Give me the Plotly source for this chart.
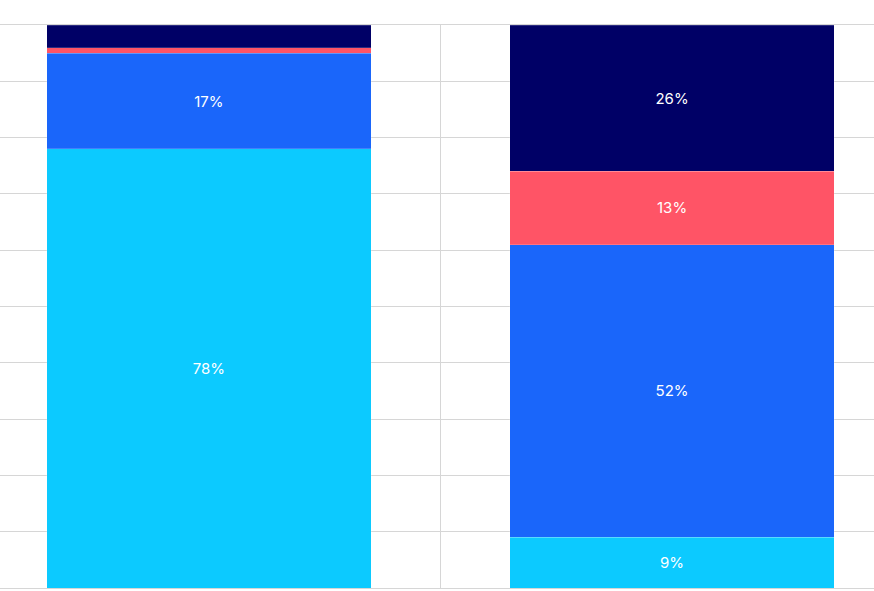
import plotly.graph_objects as go

categories = ["A", "B"]
series_names = ["S1", "S2", "S3", "S4"]
s1 = [78, 9]
s2 = [17, 52]
s3 = [1, 13]
s4 = [4, 26]
labels1 = ["78%", "9%"]
labels2 = ["17%", "52%"]
labels3 = ["", "13%"]
labels4 = ["", "26%"]
colors = ["#0CCAFF", "#1A66FA", "#FF5466", "#000066"]

fig = go.Figure()
for name, vals, labs, col in zip(series_names, [s1, s2, s3, s4],
                                 [labels1, labels2, labels3, labels4], colors):
    fig.add_trace(go.Bar(
        x=categories, y=vals, name=name, text=labs,
        textposition="inside", insidetextanchor="middle",
        textfont=dict(color="white", size=15, family="Inter"),
        marker=dict(color=col, line=dict(color="rgba(255,255,255,0.35)", width=0.5)),
        width=0.7, hoverinfo="skip",
    ))

fig.update_layout(
    barmode="stack",
    width=874, height=591,
    margin=dict(l=0, r=0, t=25, b=3),
    paper_bgcolor="white", plot_bgcolor="white",
    showlegend=False,
    font=dict(family="Inter"),
)
fig.update_xaxes(type="category", range=[-0.451, 1.436], tickson="boundaries",
                 showgrid=True, gridcolor="#D6D6D6", gridwidth=1,
                 showticklabels=False, ticks="", zeroline=False,
                 showline=True, mirror=True, linecolor="#D6D6D6", linewidth=1)
fig.update_yaxes(range=[0, 100], dtick=10, showgrid=True, gridcolor="#D6D6D6",
                 gridwidth=1, showticklabels=False, ticks="", zeroline=False,
                 showline=False)

fig.write_html("out.html", config={"displayModeBar": False},
               post_script="document.body.style.margin='0';")
